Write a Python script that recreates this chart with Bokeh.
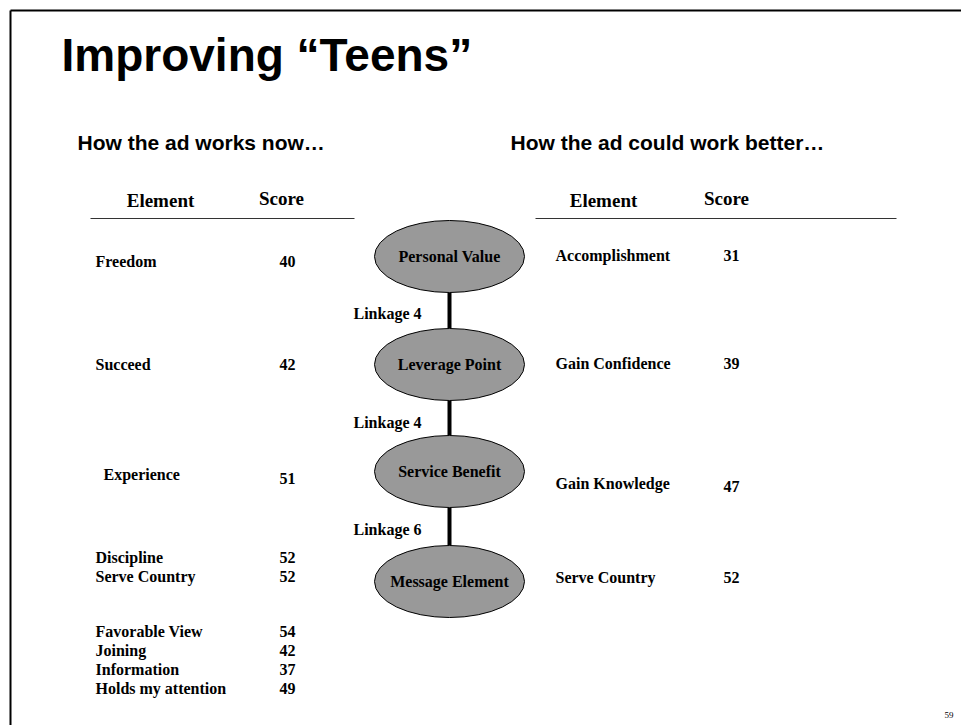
from bokeh.plotting import figure
from bokeh.models import Range1d
from bokeh.embed import file_html
from bokeh.resources import INLINE
from bokeh.core.properties import value

# ---------------- data ----------------
title_text = "Improving \u201cTeens\u201d"
left_subtitle = "How the ad works now\u2026"
right_subtitle = "How the ad could work better\u2026"
header_labels = ["Element", "Score"]

left_elements = ["Freedom", "Succeed", "Experience", "Discipline", "Serve Country",
                 "Favorable View", "Joining", "Information", "Holds my attention"]
left_scores = [40, 42, 51, 52, 52, 54, 42, 37, 49]

ladder_levels = ["Personal Value", "Leverage Point", "Service Benefit", "Message Element"]
linkage_values = [4, 4, 6]

right_elements = ["Accomplishment", "Gain Confidence", "Gain Knowledge", "Serve Country"]
right_scores = [31, 39, 47, 52]

page_number = "59"

# ---------------- layout (positions in page pixels) ----------------
left_elem_x = [95, 95, 103, 95, 95, 95, 95, 95, 95]
left_elem_y = [261, 364, 474, 557, 576, 631, 650, 669, 688]
left_score_x = 279
left_score_y = [261, 364, 478, 557, 576, 631, 650, 669, 688]

ladder_x = 449
ladder_y = [256, 364, 471, 581]
ell_w, ell_h = 150, 72
linkage_x = 353
linkage_y = [313, 422, 529]

right_elem_x = 555
right_elem_y = [255, 363, 483, 577]
right_score_x = 723
right_score_y = [255, 363, 486, 577]

W, H = 961, 725
SERIF = value("Liberation Serif")
SANS = value("Liberation Sans")

p = figure(width=W, height=H, x_range=Range1d(0, W), y_range=Range1d(H, 0),
           output_backend="svg", toolbar_location=None, min_border=0)
p.axis.visible = False
p.grid.visible = False
p.outline_line_color = None
p.background_fill_color = "white"
p.border_fill_color = "white"

# slide border (top + left)
p.segment(x0=[10, 10], y0=[10, 10], x1=[W, 10], y1=[10, H], line_color="black", line_width=2)

# title & subtitles
p.text(x=[61], y=[54], text=[title_text], text_font=SANS, text_font_style="bold",
       text_font_size="46px", text_baseline="middle", text_color="black")
p.text(x=[77, 510], y=[142, 142], text=[left_subtitle, right_subtitle], text_font=SANS,
       text_font_style="bold", text_font_size="21px", text_baseline="middle", text_color="black")

# table headers
p.text(x=[160, 281, 603, 726], y=[200, 198, 200, 198],
       text=header_labels + header_labels, text_font=SERIF, text_font_style="bold",
       text_font_size="19px", text_align="center", text_baseline="middle", text_color="black")
p.segment(x0=[90, 535], y0=[218, 218], x1=[354, 896], y1=[218, 218],
          line_color="#333333", line_width=1.2)

# left table
p.text(x=left_elem_x, y=left_elem_y, text=left_elements, text_font=SERIF,
       text_font_style="bold", text_font_size="16px", text_baseline="middle", text_color="black")
p.text(x=[left_score_x] * len(left_scores), y=left_score_y, text=[str(s) for s in left_scores],
       text_font=SERIF, text_font_style="bold", text_font_size="16px",
       text_baseline="middle", text_color="black")

# ladder
p.segment(x0=[ladder_x] * 3, y0=[y + ell_h / 2 for y in ladder_y[:-1]],
          x1=[ladder_x] * 3, y1=[y - ell_h / 2 for y in ladder_y[1:]],
          line_color="black", line_width=4)
p.ellipse(x=[ladder_x] * 4, y=ladder_y, width=ell_w, height=ell_h,
          fill_color="#999999", line_color="black", line_width=1)
p.text(x=[ladder_x] * 4, y=ladder_y, text=ladder_levels, text_font=SERIF,
       text_font_style="bold", text_font_size="16px", text_align="center",
       text_baseline="middle", text_color="black")
p.text(x=[linkage_x] * 3, y=linkage_y, text=["Linkage %d" % v for v in linkage_values],
       text_font=SERIF, text_font_style="bold", text_font_size="16px",
       text_baseline="middle", text_color="black")

# right table
p.text(x=[right_elem_x] * 4, y=right_elem_y, text=right_elements, text_font=SERIF,
       text_font_style="bold", text_font_size="16px", text_baseline="middle", text_color="black")
p.text(x=[right_score_x] * 4, y=right_score_y, text=[str(s) for s in right_scores],
       text_font=SERIF, text_font_style="bold", text_font_size="16px",
       text_baseline="middle", text_color="black")

# page number
p.text(x=[953], y=[714], text=[page_number], text_font=SERIF, text_font_size="9px",
       text_align="right", text_baseline="middle", text_color="black")

open("out.html", "w").write(file_html(p, INLINE))
